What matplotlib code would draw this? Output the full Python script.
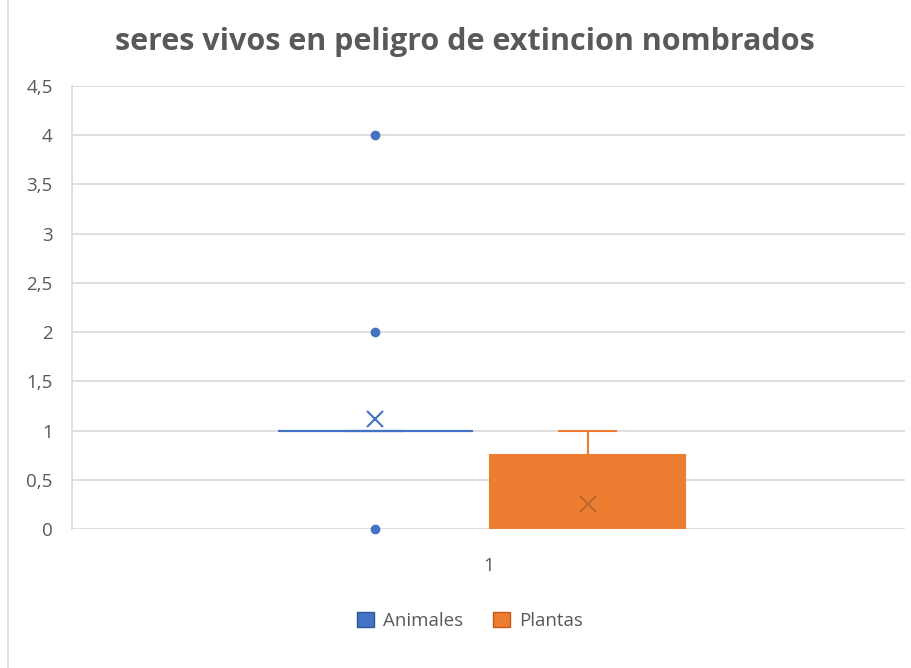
import matplotlib
matplotlib.use("Agg")
import matplotlib.pyplot as plt
from matplotlib.patches import Patch

# Data (summary statistics)
series = ["Animales", "Plantas"]
colors = ["#4472C4", "#ED7D31"]
q1 = [1.0, 0.0]
med = [1.0, 0.0]
q3 = [1.0, 0.75]
whislo = [1.0, 0.0]
whishi = [1.0, 1.0]
means = [1.12, 0.25]
fliers = [[0, 2, 4], []]
category = ["1"]
yticks = [0, 0.5, 1, 1.5, 2, 2.5, 3, 3.5, 4, 4.5]

plt.rcParams['font.family'] = ['Open Sans', 'DejaVu Sans']

fig = plt.figure(figsize=(9.12, 6.68), dpi=100)
ax = fig.add_axes([72/912, 1-529/668, (905-72)/912, (529-86)/668])

positions = [0.364, 0.619]
width = 0.234
grey = "#D9D9D9"

for i in range(len(series)):
    st = [dict(q1=q1[i], med=med[i], q3=q3[i], whislo=whislo[i], whishi=whishi[i],
               mean=means[i], fliers=fliers[i], label=series[i])]
    c = colors[i]
    res = ax.bxp(st, positions=[positions[i]], widths=width, patch_artist=True,
                 showmeans=True, showfliers=True, manage_ticks=False,
                 boxprops=dict(facecolor=c, edgecolor=c, linewidth=1.5),
                 medianprops=dict(color=c, linewidth=1.5),
                 whiskerprops=dict(color=c, linewidth=1.5),
                 capprops=dict(color=c, linewidth=1.5),
                 capwidths=width * 0.29,
                 meanprops=dict(marker='x', markeredgecolor=c if i == 0 else "#C0652A",
                                markersize=11, markeredgewidth=1.5),
                 flierprops=dict(marker='o', markerfacecolor=c, markeredgecolor=c,
                                 markersize=6))
    for f in res['fliers']:
        f.set_clip_on(False)

ax.set_xlim(0, 1)
ax.set_ylim(0, 4.5)
ax.set_yticks(yticks)
ax.set_yticklabels([("%g" % v).replace(".", ",") for v in yticks])
ax.set_xticks([0.5])
ax.set_xticklabels(category)
ax.yaxis.grid(True, color=grey, linewidth=1.2)
ax.set_axisbelow(True)
for s in ["top", "right", "bottom"]:
    ax.spines[s].set_visible(False)
ax.spines["left"].set_color(grey)
ax.spines["left"].set_linewidth(1.2)
ax.tick_params(axis='both', length=0, labelsize=13.5, colors="#595959", pad=14)
ax.tick_params(axis='x', pad=20)

fig.text(465/912, 1-42/668, "seres vivos en peligro de extincion nombrados",
         ha='center', va='center', fontsize=22, fontweight='bold', color="#595959")

handles = [Patch(facecolor=colors[i], edgecolor="#2F5597" if i == 0 else "#C55A11")
           for i in range(2)]
fig.legend(handles, series, loc='center', bbox_to_anchor=(470/912, 1-621/668),
           ncol=2, frameon=False, fontsize=13.5, labelcolor="#595959",
           handlelength=0.9, handleheight=0.9, columnspacing=1.6, handletextpad=0.5)

# light chart border line on the left
fig.add_artist(plt.Line2D([8/912, 8/912], [0, 1], color=grey, linewidth=1.2,
                          transform=fig.transFigure))

fig.savefig("out.png", dpi=100)
